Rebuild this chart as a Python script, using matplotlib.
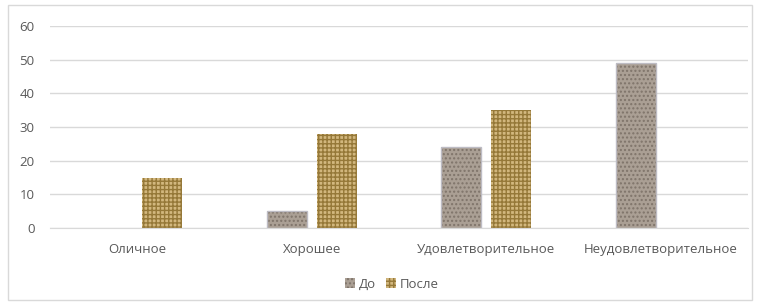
import matplotlib.pyplot as plt
import numpy as np
from matplotlib.patches import Rectangle, Patch

plt.rcParams['font.family'] = ['Open Sans', 'DejaVu Sans']

categories = ["Оличное", "Хорошее", "Удовлетворительное", "Неудовлетворительное"]
do_vals = [0, 5, 24, 49]
posle_vals = [15, 28, 35, 0]
series_names = ["До", "После"]
y_ticks = [0, 10, 20, 30, 40, 50, 60]

W, H = 759, 305
fig = plt.figure(figsize=(W / 100, H / 100), dpi=100)

# outer chart border
fig.patches.append(Rectangle((8 / W, 1 - 300 / H), 744 / W, 295 / H,
                             transform=fig.transFigure, fill=False,
                             edgecolor="#d9d9d9", linewidth=1))

ax = fig.add_axes([50 / W, 77 / H, 698 / W, 202 / H])
x = np.arange(len(categories))
bw = 40 / 174.5
gap = 10 / 174.5

do_color = "#aa9f94"
posle_color = "#d2b77e"
do_hatch, posle_hatch = "....", "++++"
do_hcol, posle_hcol = "#7f746a", "#957838"

# base fill + texture hatch, border only on non-empty bars
ax.bar(x - (bw + gap) / 2, do_vals, bw, color=do_color, hatch=do_hatch,
       edgecolor=do_hcol, linewidth=0, zorder=2)
ax.bar(x - (bw + gap) / 2, do_vals, bw, fill=False, edgecolor="#bdbcc4",
       linewidth=[1 if v > 0 else 0 for v in do_vals], zorder=3)
ax.bar(x + (bw + gap) / 2, posle_vals, bw, color=posle_color, hatch=posle_hatch,
       edgecolor=posle_hcol, linewidth=0, zorder=2)

ax.set_xlim(-0.5, len(categories) - 0.5)
ax.set_ylim(0, 60)
ax.set_yticks(y_ticks)
ax.set_xticks(x)
ax.set_xticklabels(categories)
ax.yaxis.grid(True, color="#d9d9d9", linewidth=1)
ax.set_axisbelow(True)
for s in ["top", "right", "left"]:
    ax.spines[s].set_visible(False)
ax.spines["bottom"].set_color("#d9d9d9")
ax.tick_params(axis="both", length=0, labelsize=9.5, colors="#595959")
ax.tick_params(axis="y", pad=11)
ax.tick_params(axis="x", pad=11)

handles = [Patch(facecolor=do_color, hatch=do_hatch, edgecolor=do_hcol, linewidth=0),
           Patch(facecolor=posle_color, hatch=posle_hatch, edgecolor=posle_hcol, linewidth=0)]
fig.legend(handles, series_names, loc="center", bbox_to_anchor=(392 / W, 1 - 284 / H),
           ncol=2, frameon=False, fontsize=9.5, handlelength=0.7, handleheight=0.7,
           handletextpad=0.3, columnspacing=0.8, labelcolor="#595959")

fig.savefig("out.png", dpi=100)
